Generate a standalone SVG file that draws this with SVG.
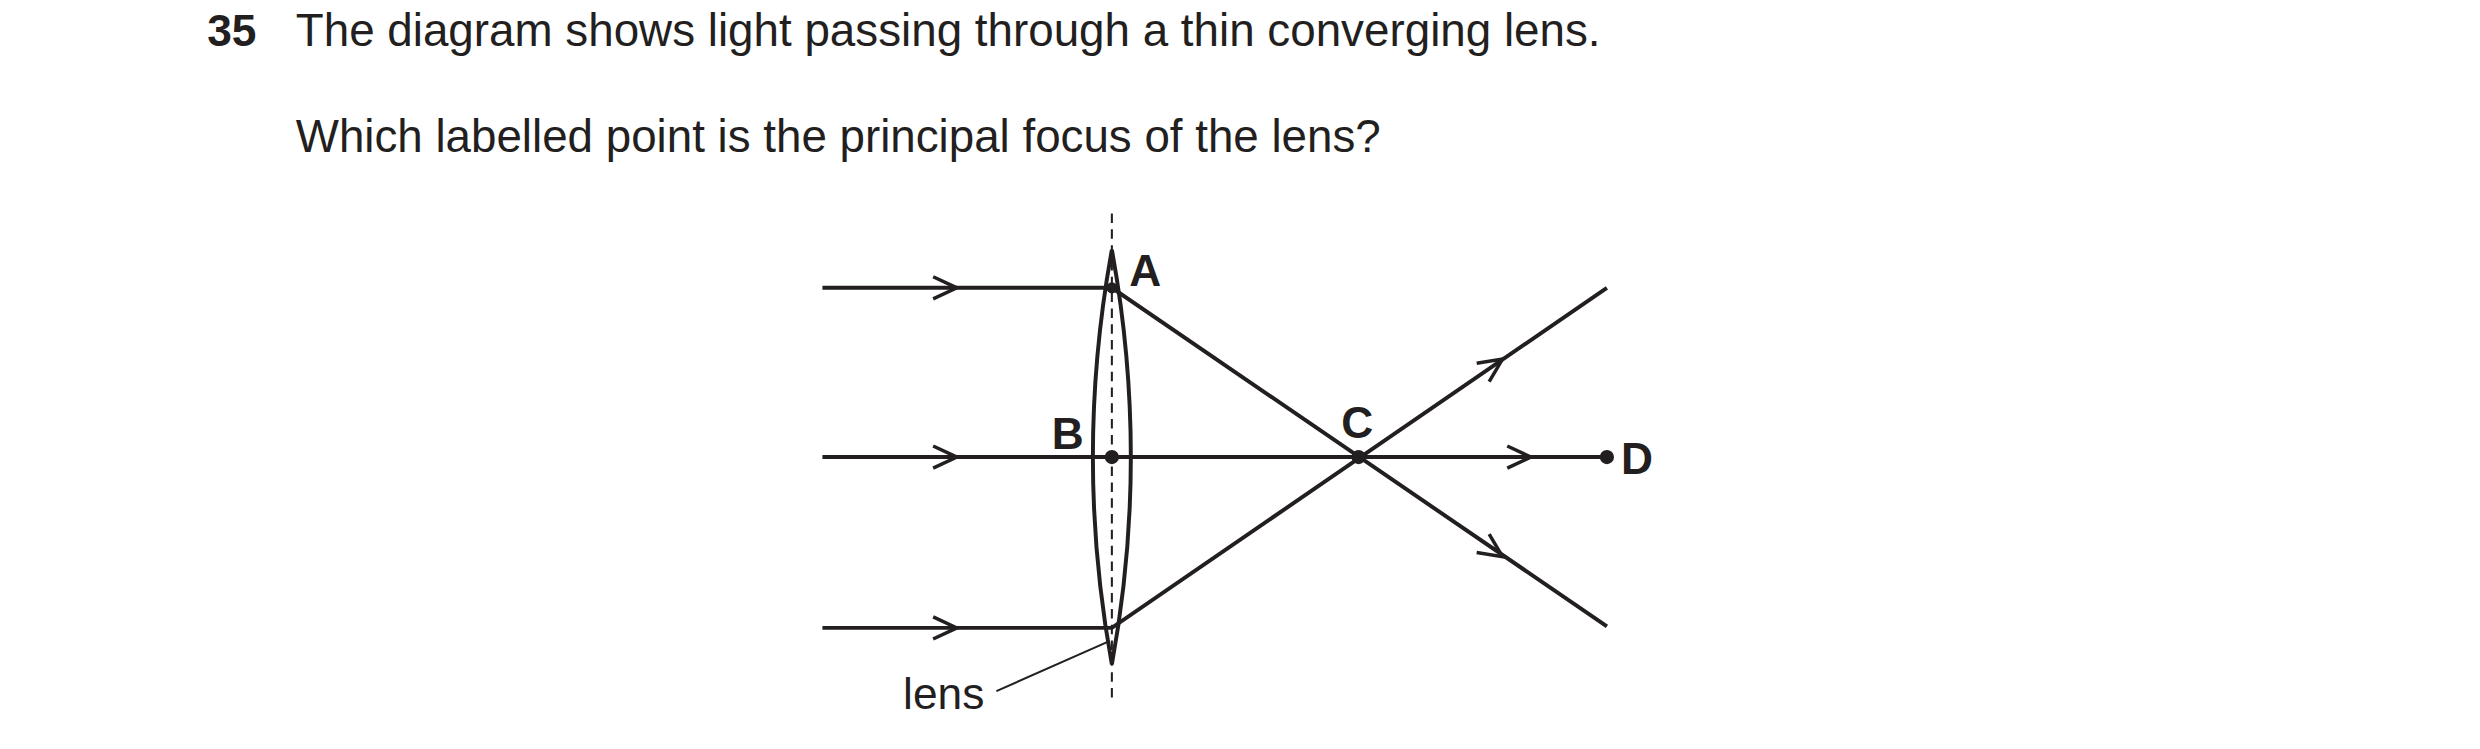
<svg xmlns="http://www.w3.org/2000/svg" width="2480" height="749" viewBox="0 0 2480 749">
<style>
.t{font-family:"Liberation Sans",Arial,sans-serif;fill:#231f20}
.l{stroke:#231f20;stroke-width:2.5;fill:none}
.c{stroke:#231f20;stroke-width:2.2;fill:none}
.b{font-weight:bold}
</style>
<defs><path id="ch" class="c" d="M-15,-7 L0,0 L-15,7"/></defs>
<rect width="2480" height="749" fill="#fff"/>
<g transform="scale(1.5816)">
<g id="question">
<text class="t b" x="131" y="29" font-size="28">35</text>
<text class="t" x="187" y="29" font-size="29" textLength="825" lengthAdjust="spacingAndGlyphs">The diagram shows light passing through a thin converging lens.</text>
<text class="t" x="187" y="96" font-size="29" textLength="686" lengthAdjust="spacingAndGlyphs">Which labelled point is the principal focus of the lens?</text>
</g>
<g id="axis"><line x1="703" y1="135" x2="703" y2="445" stroke="#231f20" stroke-width="1.3" stroke-dasharray="6,4"/></g>
<g id="lens"><path class="l" d="M703,158 Q679,289 703,420 Q727,289 703,158 Z"/></g>
<g id="connectors">
<polyline class="l" points="520,182 703,182 1016,396"/>
<line class="l" x1="520" y1="289" x2="1016" y2="289"/>
<polyline class="l" points="520,397 703,397 1016,182"/>
<use href="#ch" transform="translate(605,182)"/>
<use href="#ch" transform="translate(605,289)"/>
<use href="#ch" transform="translate(968,289)"/>
<use href="#ch" transform="translate(605,397)"/>
<use href="#ch" transform="translate(950,227) rotate(-34.3)"/>
<use href="#ch" transform="translate(950,352) rotate(34.3)"/>
<line x1="630" y1="437" x2="700" y2="406" stroke="#231f20" stroke-width="1.3"/>
</g>
<g id="points" fill="#231f20">
<circle cx="703" cy="182" r="3.5"/>
<circle cx="703" cy="289" r="4.5"/>
<circle cx="859" cy="289" r="4.5"/>
<circle cx="1016" cy="289" r="4.5"/>
</g>
<g id="labels">
<text class="t b" x="714" y="181" font-size="28">A</text>
<text class="t b" x="665" y="284" font-size="28">B</text>
<text class="t b" x="848" y="277" font-size="28">C</text>
<text class="t b" x="1025" y="300" font-size="28">D</text>
<text class="t" x="571" y="448" font-size="28">lens</text>
</g>
</g>
</svg>
